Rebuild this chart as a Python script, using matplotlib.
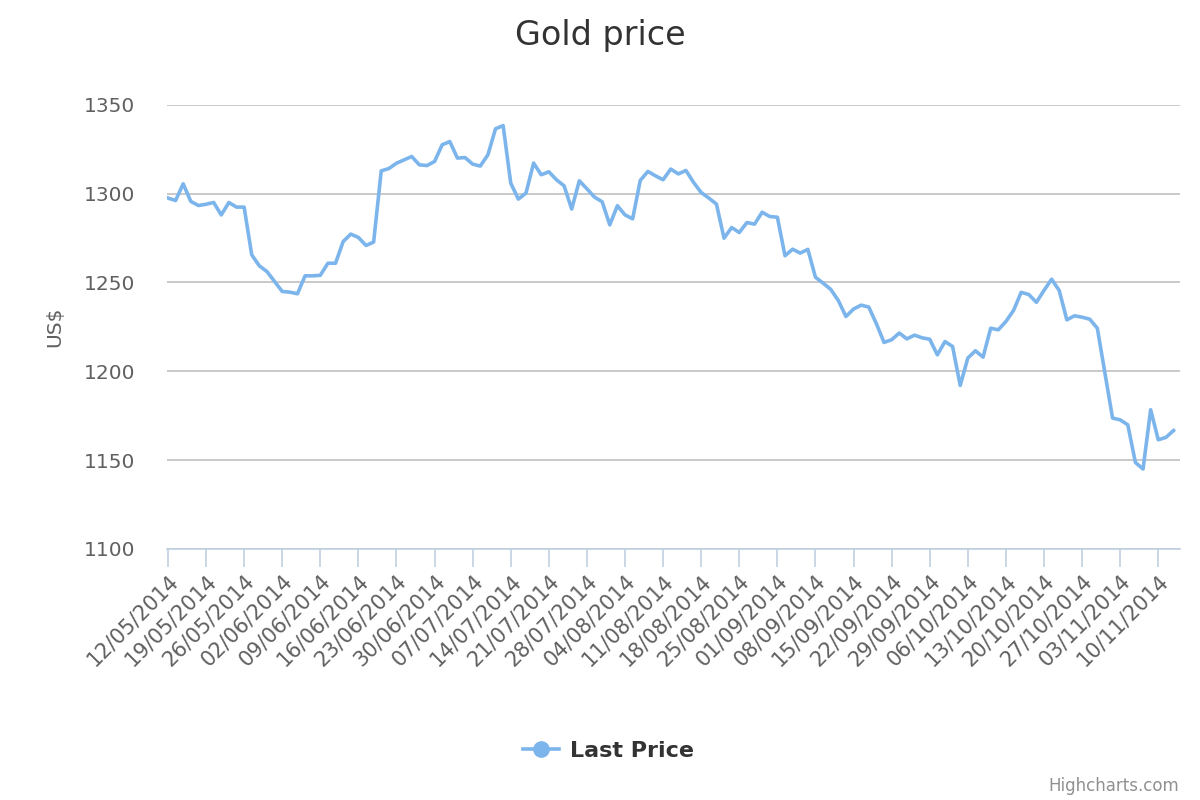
import matplotlib
matplotlib.use("Agg")
import matplotlib.pyplot as plt
import numpy as np

# Gold price, one value per trading day (5 per week)
prices = [
    1297.5, 1296.1, 1305.5, 1295.6, 1293.3, 1294.0, 1295.0, 1288.0, 1295.0, 1292.4,
    1292.4, 1265.5, 1259.3, 1256.1, 1250.5, 1244.9, 1244.5, 1243.6, 1253.7, 1253.7,
    1254.0, 1260.8, 1260.8, 1273.0, 1277.2, 1275.3, 1270.8, 1272.7, 1312.8, 1314.1,
    1317.1, 1319.0, 1320.9, 1316.2, 1315.8, 1318.1, 1327.5, 1329.3, 1320.0, 1320.3,
    1316.6, 1315.5, 1321.8, 1336.5, 1338.3, 1305.9, 1296.9, 1300.3, 1317.2, 1310.6,
    1312.3, 1307.8, 1304.4, 1291.3, 1307.2, 1302.7, 1298.0, 1295.4, 1282.4, 1293.2,
    1288.0, 1285.8, 1307.4, 1312.5, 1310.0, 1307.8, 1313.8, 1311.1, 1313.0, 1306.3,
    1300.6, 1297.5, 1294.1, 1274.9, 1280.9, 1278.1, 1283.7, 1282.8, 1289.5, 1287.1,
    1286.7, 1265.0, 1268.7, 1266.5, 1268.6, 1252.9, 1249.6, 1246.1, 1239.8, 1230.8,
    1235.0, 1237.2, 1236.1, 1226.7, 1216.2, 1217.7, 1221.5, 1218.2, 1220.3, 1218.8,
    1218.0, 1209.2, 1216.7, 1213.9, 1192.0, 1207.4, 1211.5, 1207.9, 1224.2, 1223.3,
    1228.0, 1234.2, 1244.4, 1243.2, 1238.8, 1245.5, 1251.8, 1245.4, 1228.9, 1231.2,
    1230.4, 1229.3, 1224.2, 1198.9, 1173.6, 1172.6, 1169.8, 1148.6, 1144.9, 1178.3,
    1161.4, 1162.7, 1166.6,
]

# Monday labels, one every 5 trading days
week_labels = [
    "12/05/2014", "19/05/2014", "26/05/2014", "02/06/2014", "09/06/2014",
    "16/06/2014", "23/06/2014", "30/06/2014", "07/07/2014", "14/07/2014",
    "21/07/2014", "28/07/2014", "04/08/2014", "11/08/2014", "18/08/2014",
    "25/08/2014", "01/09/2014", "08/09/2014", "15/09/2014", "22/09/2014",
    "29/09/2014", "06/10/2014", "13/10/2014", "20/10/2014", "27/10/2014",
    "03/11/2014", "10/11/2014",
]
y_ticks = [1100, 1150, 1200, 1250, 1300, 1350]

x = np.arange(len(prices))

plt.rcParams["font.family"] = ["DejaVu Sans"]

fig = plt.figure(figsize=(12, 8), dpi=100)
ax = fig.add_axes([0.139, 0.314, 0.844, 0.555])

ax.plot(x, prices, color="#7cb5ec", lw=2.6, solid_joinstyle="round",
        label="Last Price")

ax.set_ylim(1100, 1350)
ax.set_xlim(-0.15, 132.8)
ax.set_yticks(y_ticks)
ax.set_yticklabels([str(v) for v in y_ticks], color="#606060", fontsize=14.5)
ax.grid(axis="y", color="#c0c0c0", lw=1.2)
ax.set_axisbelow(True)

ax.set_xticks(x[::5][:len(week_labels)])
ax.set_xticklabels(week_labels, rotation=45, ha="right", va="top",
                   rotation_mode="anchor", fontsize=15, color="#606060")
ax.tick_params(axis="x", length=13, width=1.2, color="#c0d0e0", pad=3)
ax.tick_params(axis="y", length=0, pad=23)

for s in ["top", "right", "left"]:
    ax.spines[s].set_visible(False)
ax.spines["bottom"].set_color("#c0d0e0")
ax.spines["bottom"].set_linewidth(1.2)

ax.set_ylabel("US$", color="#606060", fontsize=14.5, labelpad=14)

fig.text(0.5, 0.955, "Gold price", ha="center", va="center",
         fontsize=24, color="#333333")

handle = plt.Line2D([], [], color="#7cb5ec", lw=2.6, marker="o",
                    markersize=11)
fig.legend([handle], ["Last Price"], loc="center",
           bbox_to_anchor=(0.507, 0.061), frameon=False, handlelength=1.6,
           handletextpad=0.5, prop={"size": 16, "weight": "bold"},
           labelcolor="#333333")

fig.text(0.983, 0.018, "Highcharts.com", ha="right", va="center",
         fontsize=12, color="#909090")

fig.savefig("out.png", dpi=100)
